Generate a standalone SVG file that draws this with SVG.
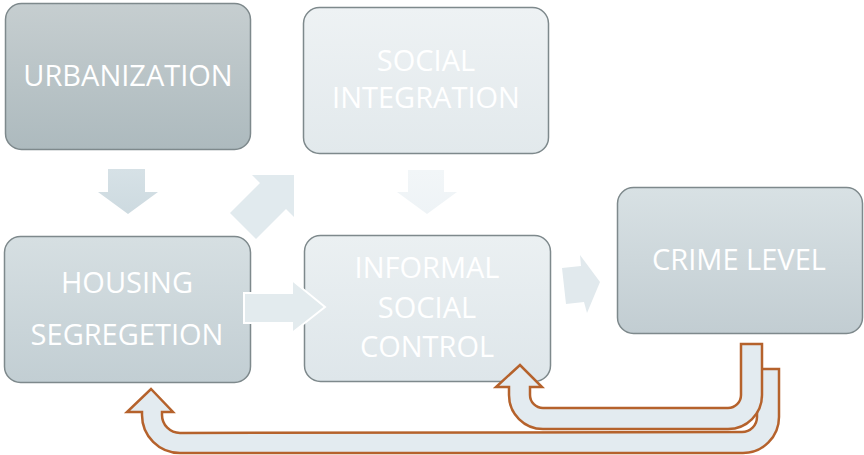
<svg xmlns="http://www.w3.org/2000/svg" width="864" height="455" viewBox="0 0 864 455">
<defs>
<linearGradient id="gUrb" x1="0" y1="0" x2="0" y2="1"><stop offset="0" stop-color="#c6ced0"/><stop offset="1" stop-color="#adbabe"/></linearGradient>
<linearGradient id="gSoc" x1="0" y1="0" x2="0" y2="1"><stop offset="0" stop-color="#eef2f4"/><stop offset="1" stop-color="#e2e9ec"/></linearGradient>
<linearGradient id="gHou" x1="0" y1="0" x2="0" y2="1"><stop offset="0" stop-color="#d6dfe2"/><stop offset="1" stop-color="#c2ced3"/></linearGradient>
<linearGradient id="gInf" x1="0" y1="0" x2="0" y2="1"><stop offset="0" stop-color="#ebf0f2"/><stop offset="1" stop-color="#dee6ea"/></linearGradient>
<linearGradient id="gCri" x1="0" y1="0" x2="0" y2="1"><stop offset="0" stop-color="#d8e1e4"/><stop offset="1" stop-color="#c2cdd2"/></linearGradient>
<linearGradient id="gA1" x1="0" y1="0" x2="0" y2="1"><stop offset="0" stop-color="#d6e1e6"/><stop offset="1" stop-color="#cddae0"/></linearGradient>
<linearGradient id="gA3" x1="0" y1="0" x2="0" y2="1"><stop offset="0" stop-color="#f2f6f8"/><stop offset="1" stop-color="#eef3f6"/></linearGradient>
</defs>
<style>
.box{stroke:#7e898c;stroke-width:1.5}
.lbl{font-family:"Open Sans","Liberation Sans",sans-serif;font-size:29px;fill:#ffffff;text-anchor:middle}
.fb{fill:#e3ebf0;stroke:#b5622c;stroke-width:2.5;stroke-linejoin:miter}
</style>
<g id="urbanization">
<rect class="box" x="5.5" y="3.5" width="245" height="146" rx="16" fill="url(#gUrb)"/>
<text class="lbl" x="128" y="86">URBANIZATION</text>
</g>
<g id="social-integration">
<rect class="box" x="303.5" y="7.5" width="245" height="146" rx="16" fill="url(#gSoc)"/>
<text class="lbl" x="426" y="71">SOCIAL</text>
<text class="lbl" x="426" y="108">INTEGRATION</text>
</g>
<g id="housing-segregation">
<rect class="box" x="4.5" y="236.5" width="246" height="146" rx="16" fill="url(#gHou)"/>
<text class="lbl" x="127" y="293">HOUSING</text>
<text class="lbl" x="127" y="345">SEGREGETION</text>
</g>
<g id="informal-social-control">
<rect class="box" x="304.5" y="235.5" width="246" height="146" rx="16" fill="url(#gInf)"/>
<text class="lbl" x="427" y="278">INFORMAL</text>
<text class="lbl" x="427" y="318">SOCIAL</text>
<text class="lbl" x="427" y="357">CONTROL</text>
</g>
<g id="crime-level">
<rect class="box" x="617.5" y="187.5" width="245" height="146" rx="16" fill="url(#gCri)"/>
<text class="lbl" x="739" y="270">CRIME LEVEL</text>
</g>
<g id="connectors">
<polygon points="108,169 145,169 145,192 158,192 128,214 98,192 108,192" fill="url(#gA1)"/>
<polygon points="230,213 260,183 252,175 294,175 294,217 286,209 256,239" fill="#e1eaee"/>
<polygon points="408,170 444,170 444,192 457,192 427,214 397,192 408,192" fill="url(#gA3)"/>
<polygon points="244,293 292,293 292,280 325,307 292,333 292,323 244,323" fill="#e3ebee" stroke="#ffffff" stroke-width="2"/>
<polygon points="562,268 581,266 580,255 600,282 587,313 584,302 566,304" fill="#e1e9ed"/>
<path class="fb" d="M779,369 L779,417 A36,36 0 0 1 743,453 L180,453 A38,38 0 0 1 142,415 L142,412 L127,412 L151,389 L173,412 L162,412 L162,415 A18,18 0 0 0 180,433 L742,432 A15,15 0 0 0 757,417 L757,369 Z"/>
<path class="fb" d="M741,344 L762,344 L762,395 A34,34 0 0 1 728,429 L543,429 A34,34 0 0 1 509,395 L509,387 L496,387 L520,365 L542,387 L530,387 L530,395 A13,13 0 0 0 543,408 L728,408 A13,13 0 0 0 741,395 Z"/>
</g>
</svg>
